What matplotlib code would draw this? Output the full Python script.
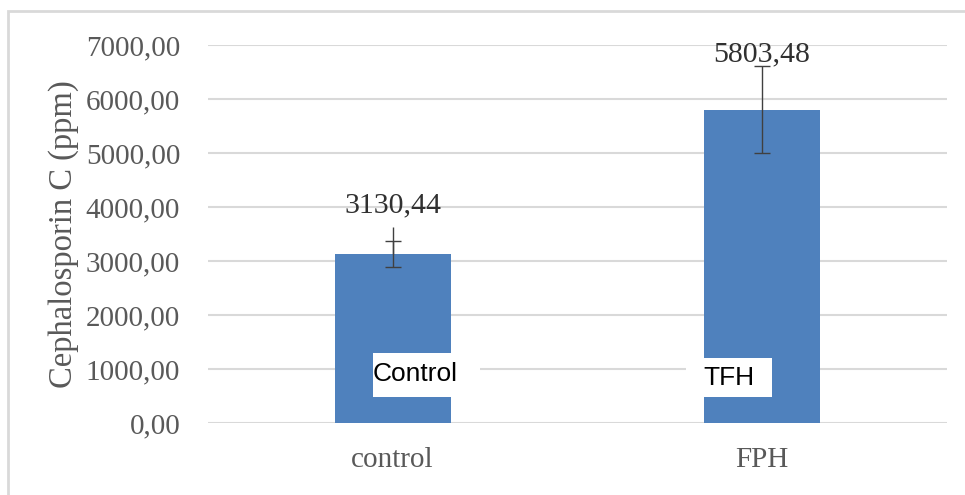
import matplotlib.pyplot as plt
from matplotlib.patches import Rectangle

categories = ["control", "FPH"]
values = [3130.44, 5803.48]
errors = [240, 806]
value_labels = ["3130,44", "5803,48"]
yticks = [0, 1000, 2000, 3000, 4000, 5000, 6000, 7000]
ytick_labels = ["0,00", "1000,00", "2000,00", "3000,00", "4000,00",
                "5000,00", "6000,00", "7000,00"]
box_texts = ["Control", "TFH"]

bar_color = "#4F81BD"
grid_color = "#D9D9D9"
text_gray = "#595959"
serif = ["Liberation Serif", "DejaVu Serif"]

fig = plt.figure(figsize=(9.65, 4.95), dpi=100)
ax = fig.add_axes([0.2155, 0.1455, 0.7655, 0.7636])

# outer chart frame
fig.patches.append(Rectangle((8 / 965, -0.05), 1.0, (495 - 11) / 495 + 0.05,
                             transform=fig.transFigure, fill=False,
                             edgecolor=grid_color, linewidth=2))

x = list(range(len(categories)))
ax.bar(x, values, width=0.314, color=bar_color, zorder=2)
ax.errorbar(x, values, yerr=errors, fmt="none", ecolor="#404040",
            elinewidth=1, capsize=6, capthick=1, zorder=3)
# the control error line runs on past its cap
ax.errorbar([0], [values[0]], yerr=[[0], [500]], fmt="none",
            ecolor="#404040", elinewidth=1, capsize=0, zorder=3)

label_offsets = [35, 40]
for xi, v, lab, off in zip(x, values, value_labels, label_offsets):
    ax.annotate(lab, (xi, v), xytext=(0, off), textcoords="offset points",
                ha="center", va="center", fontsize=21.5, family=serif,
                color="#303030", zorder=4, annotation_clip=False)

# white label boxes sitting on the bars
boxes = [(-0.053, 481, 0.289, 815), (0.794, 481, 0.232, 723)]
text_pos = [(-0.053, 900), (0.842, 833)]
for (bx, by, bw, bh), (tx, ty), t in zip(boxes, text_pos, box_texts):
    ax.add_patch(Rectangle((bx, by), bw, bh, facecolor="white",
                           edgecolor="none", zorder=4))
    ax.text(tx, ty, t, ha="left", va="center", fontsize=19,
            family=["Liberation Sans", "DejaVu Sans"], color="black", zorder=5)

ax.set_xlim(-0.5, 1.5)
ax.set_ylim(0, 7000)
ax.set_yticks(yticks)
ax.set_yticklabels(ytick_labels, family=serif, fontsize=21, color=text_gray)
ax.set_xticks(x)
ax.set_xticklabels(categories, family=serif, fontsize=21, color=text_gray)
ax.tick_params(axis="y", length=0, pad=20)
ax.tick_params(axis="x", length=0, pad=17)
ax.grid(axis="y", color=grid_color, linewidth=1.5, zorder=0)
ax.set_axisbelow(True)
for s in ax.spines.values():
    s.set_visible(False)
ax.set_ylabel("Cephalosporin C (ppm)", family=serif, fontsize=23.5,
              color=text_gray)
ax.yaxis.set_label_coords(-0.175, 0.5)

fig.savefig("out.png", dpi=100)
